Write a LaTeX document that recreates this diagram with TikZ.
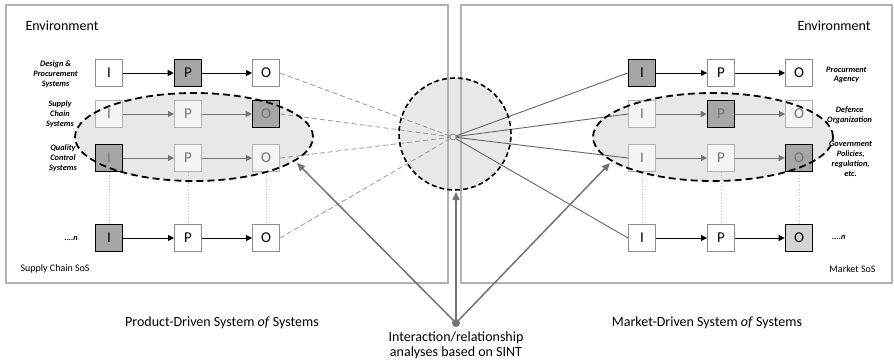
\documentclass[tikz,border=0pt]{standalone}
\usepackage{fontspec}
\setmainfont{Carlito}
\usetikzlibrary{arrows.meta}

\tikzset{
  box/.style={draw=black!45, fill=white, line width=1pt, minimum size=27pt,
    inner sep=0pt, font=\fontsize{15}{15}\selectfont},
  hibox/.style={box, draw=black, line width=1.6pt, fill=black!35},
  softbox/.style={box, draw=black, line width=1.6pt, fill=black!17},
  fadebox/.style={box, draw=black!30, fill=black!4, text=black!55},
  flow/.style={-{Triangle[length=6pt,width=6pt]}, line width=0.9pt},
  fadeflow/.style={flow, draw=black!55},
  sysname/.style={font=\fontsize{8.3}{9.8}\selectfont\bfseries\itshape, align=center, inner sep=0pt},
  link/.style={line width=0.8pt, draw=black!40, dash pattern=on 5pt off 3pt},
  tie/.style={line width=0.9pt, draw=black!60},
  guide/.style={line width=0.8pt, draw=black!25, dotted},
  group/.style={draw=black, line width=1.8pt, dash pattern=on 7pt off 4pt},
  pointer/.style={-{Triangle[length=8pt,width=7pt]}, line width=1.5pt, draw=black!55},
  title/.style={font=\fontsize{14}{15}\selectfont, inner sep=0pt}
}

\begin{document}
\begin{tikzpicture}[x=1pt, y=-1pt]
  \fill[white] (0,0) rectangle (894,364);
  \useasboundingbox (0,0) rectangle (894,364);

  % shaded areas
  \fill[black!9] (455,134) circle[radius=56pt];
  \fill[black!9] (194,137) ellipse[x radius=119pt, y radius=44pt];
  \fill[black!9] (713,137) ellipse[x radius=120pt, y radius=44pt];

  % the two frames
  \draw[black!30, line width=1.5pt] (6,5) rectangle (448,283);
  \draw[black!30, line width=1.5pt] (461,5) rectangle (892,283);

  \node[font=\fontsize{14}{14}\selectfont, anchor=west] (envL) at (22,26) {Environment};
  \node[font=\fontsize{14}{14}\selectfont, anchor=east] (envR) at (874,26) {Environment};
  \node[font=\fontsize{10}{10}\selectfont, anchor=west] (sosL) at (17,269) {Supply Chain SoS};
  \node[font=\fontsize{10}{10}\selectfont, anchor=east] (sosR) at (879,269) {Market SoS};

  % product-driven side
  \node[box] (lI1) at (109,73) {I};
  \node[hibox] (lP1) at (188,73) {P};
  \node[box] (lO1) at (266,73) {O};
  \node[fadebox] (lI2) at (109,114) {I};
  \node[fadebox] (lP2) at (188,114) {P};
  \node[hibox, text=black!55] (lO2) at (266,114) {O};
  \node[hibox, text=black!55] (lI3) at (109,158) {I};
  \node[fadebox] (lP3) at (188,158) {P};
  \node[fadebox] (lO3) at (266,158) {O};
  \node[hibox] (lI4) at (109,238) {I};
  \node[box] (lP4) at (188,238) {P};
  \node[box] (lO4) at (266,238) {O};

  \node[sysname, anchor=east] (dps) at (78,74) {Design \&\\Procurement\\Systems};
  \node[sysname, anchor=east] (scs) at (74,114) {Supply\\Chain\\Systems};
  \node[sysname, anchor=east] (qcs) at (77,158) {Quality\\Control\\Systems};
  \node[sysname, anchor=east] (nL) at (78,238) {....n};

  % market-driven side
  \node[hibox] (rI1) at (642,73) {I};
  \node[box] (rP1) at (721,73) {P};
  \node[box] (rO1) at (799,73) {O};
  \node[fadebox] (rI2) at (642,114) {I};
  \node[hibox, text=black!55] (rP2) at (721,114) {P};
  \node[fadebox] (rO2) at (799,114) {O};
  \node[fadebox] (rI3) at (642,158) {I};
  \node[fadebox] (rP3) at (721,158) {P};
  \node[hibox, text=black!55] (rO3) at (799,158) {O};
  \node[box] (rI4) at (642,238) {I};
  \node[box] (rP4) at (721,238) {P};
  \node[softbox] (rO4) at (799,238) {O};

  \node[sysname, anchor=west] (pa) at (826,75) {Procurment\\Agency};
  \node[sysname, anchor=west] (dor) at (827,115) {Defence\\Organization};
  \node[sysname, anchor=west] (gov) at (829,159) {Government\\Policies,\\regulation,\\etc.};
  \node[sysname, anchor=west] (nR) at (832,237) {....n};

  % flows inside each chain
  \draw[flow] (lI1) -- (lP1);
  \draw[flow] (lP1) -- (lO1);
  \draw[fadeflow] (lI2) -- (lP2);
  \draw[fadeflow] (lP2) -- (lO2);
  \draw[fadeflow] (lI3) -- (lP3);
  \draw[fadeflow] (lP3) -- (lO3);
  \draw[flow] (lI4) -- (lP4);
  \draw[flow] (lP4) -- (lO4);
  \draw[flow] (rI1) -- (rP1);
  \draw[flow] (rP1) -- (rO1);
  \draw[fadeflow] (rI2) -- (rP2);
  \draw[fadeflow] (rP2) -- (rO2);
  \draw[fadeflow] (rI3) -- (rP3);
  \draw[fadeflow] (rP3) -- (rO3);
  \draw[flow] (rI4) -- (rP4);
  \draw[flow] (rP4) -- (rO4);

  \draw[guide] (lI3) -- (lI4);
  \draw[guide] (lP3) -- (lP4);
  \draw[guide] (lO3) -- (lO4);
  \draw[guide] (rI3) -- (rI4);
  \draw[guide] (rP3) -- (rP4);
  \draw[guide] (rO3) -- (rO4);

  % links through the interaction hub
  \node[circle, draw=black!45, line width=0.7pt, minimum size=6pt, inner sep=0pt] (hub) at (453,137) {};
  \draw[link] (lO1.east) -- (hub);
  \draw[link] (lO2.east) -- (hub);
  \draw[link] (lO3.east) -- (hub);
  \draw[link] (lO4.east) -- (hub);
  \draw[tie] (hub) -- (rI1.west);
  \draw[tie] (hub) -- (rI2.west);
  \draw[tie] (hub) -- (rI3.west);
  \draw[tie] (hub) -- (rI4.west);

  \draw[group] (194,137) ellipse[x radius=119pt, y radius=44pt];
  \draw[group] (713,137) ellipse[x radius=120pt, y radius=44pt];
  \draw[draw=black, line width=1.6pt, dash pattern=on 5pt off 3pt] (455,134) circle[radius=56pt];

  % analysis pointers
  \fill[black!55] (456,323) circle[radius=4pt];
  \coordinate (src) at (456,323);
  \coordinate (tgL) at (297,163);
  \coordinate (tgM) at (456,192);
  \coordinate (tgR) at (610,163);
  \draw[pointer] (src) -- (tgL);
  \draw[pointer] (src) -- (tgM);
  \draw[pointer] (src) -- (tgR);

  \node[title] (pds) at (222,323) {Product-Driven System \textit{of} Systems};
  \node[title] (mds) at (707,323) {Market-Driven System \textit{of} Systems};
  \node[title, align=center, anchor=north] (sint) at (456,332) {Interaction/relationship\\analyses based on SINT};
\end{tikzpicture}
\end{document}
